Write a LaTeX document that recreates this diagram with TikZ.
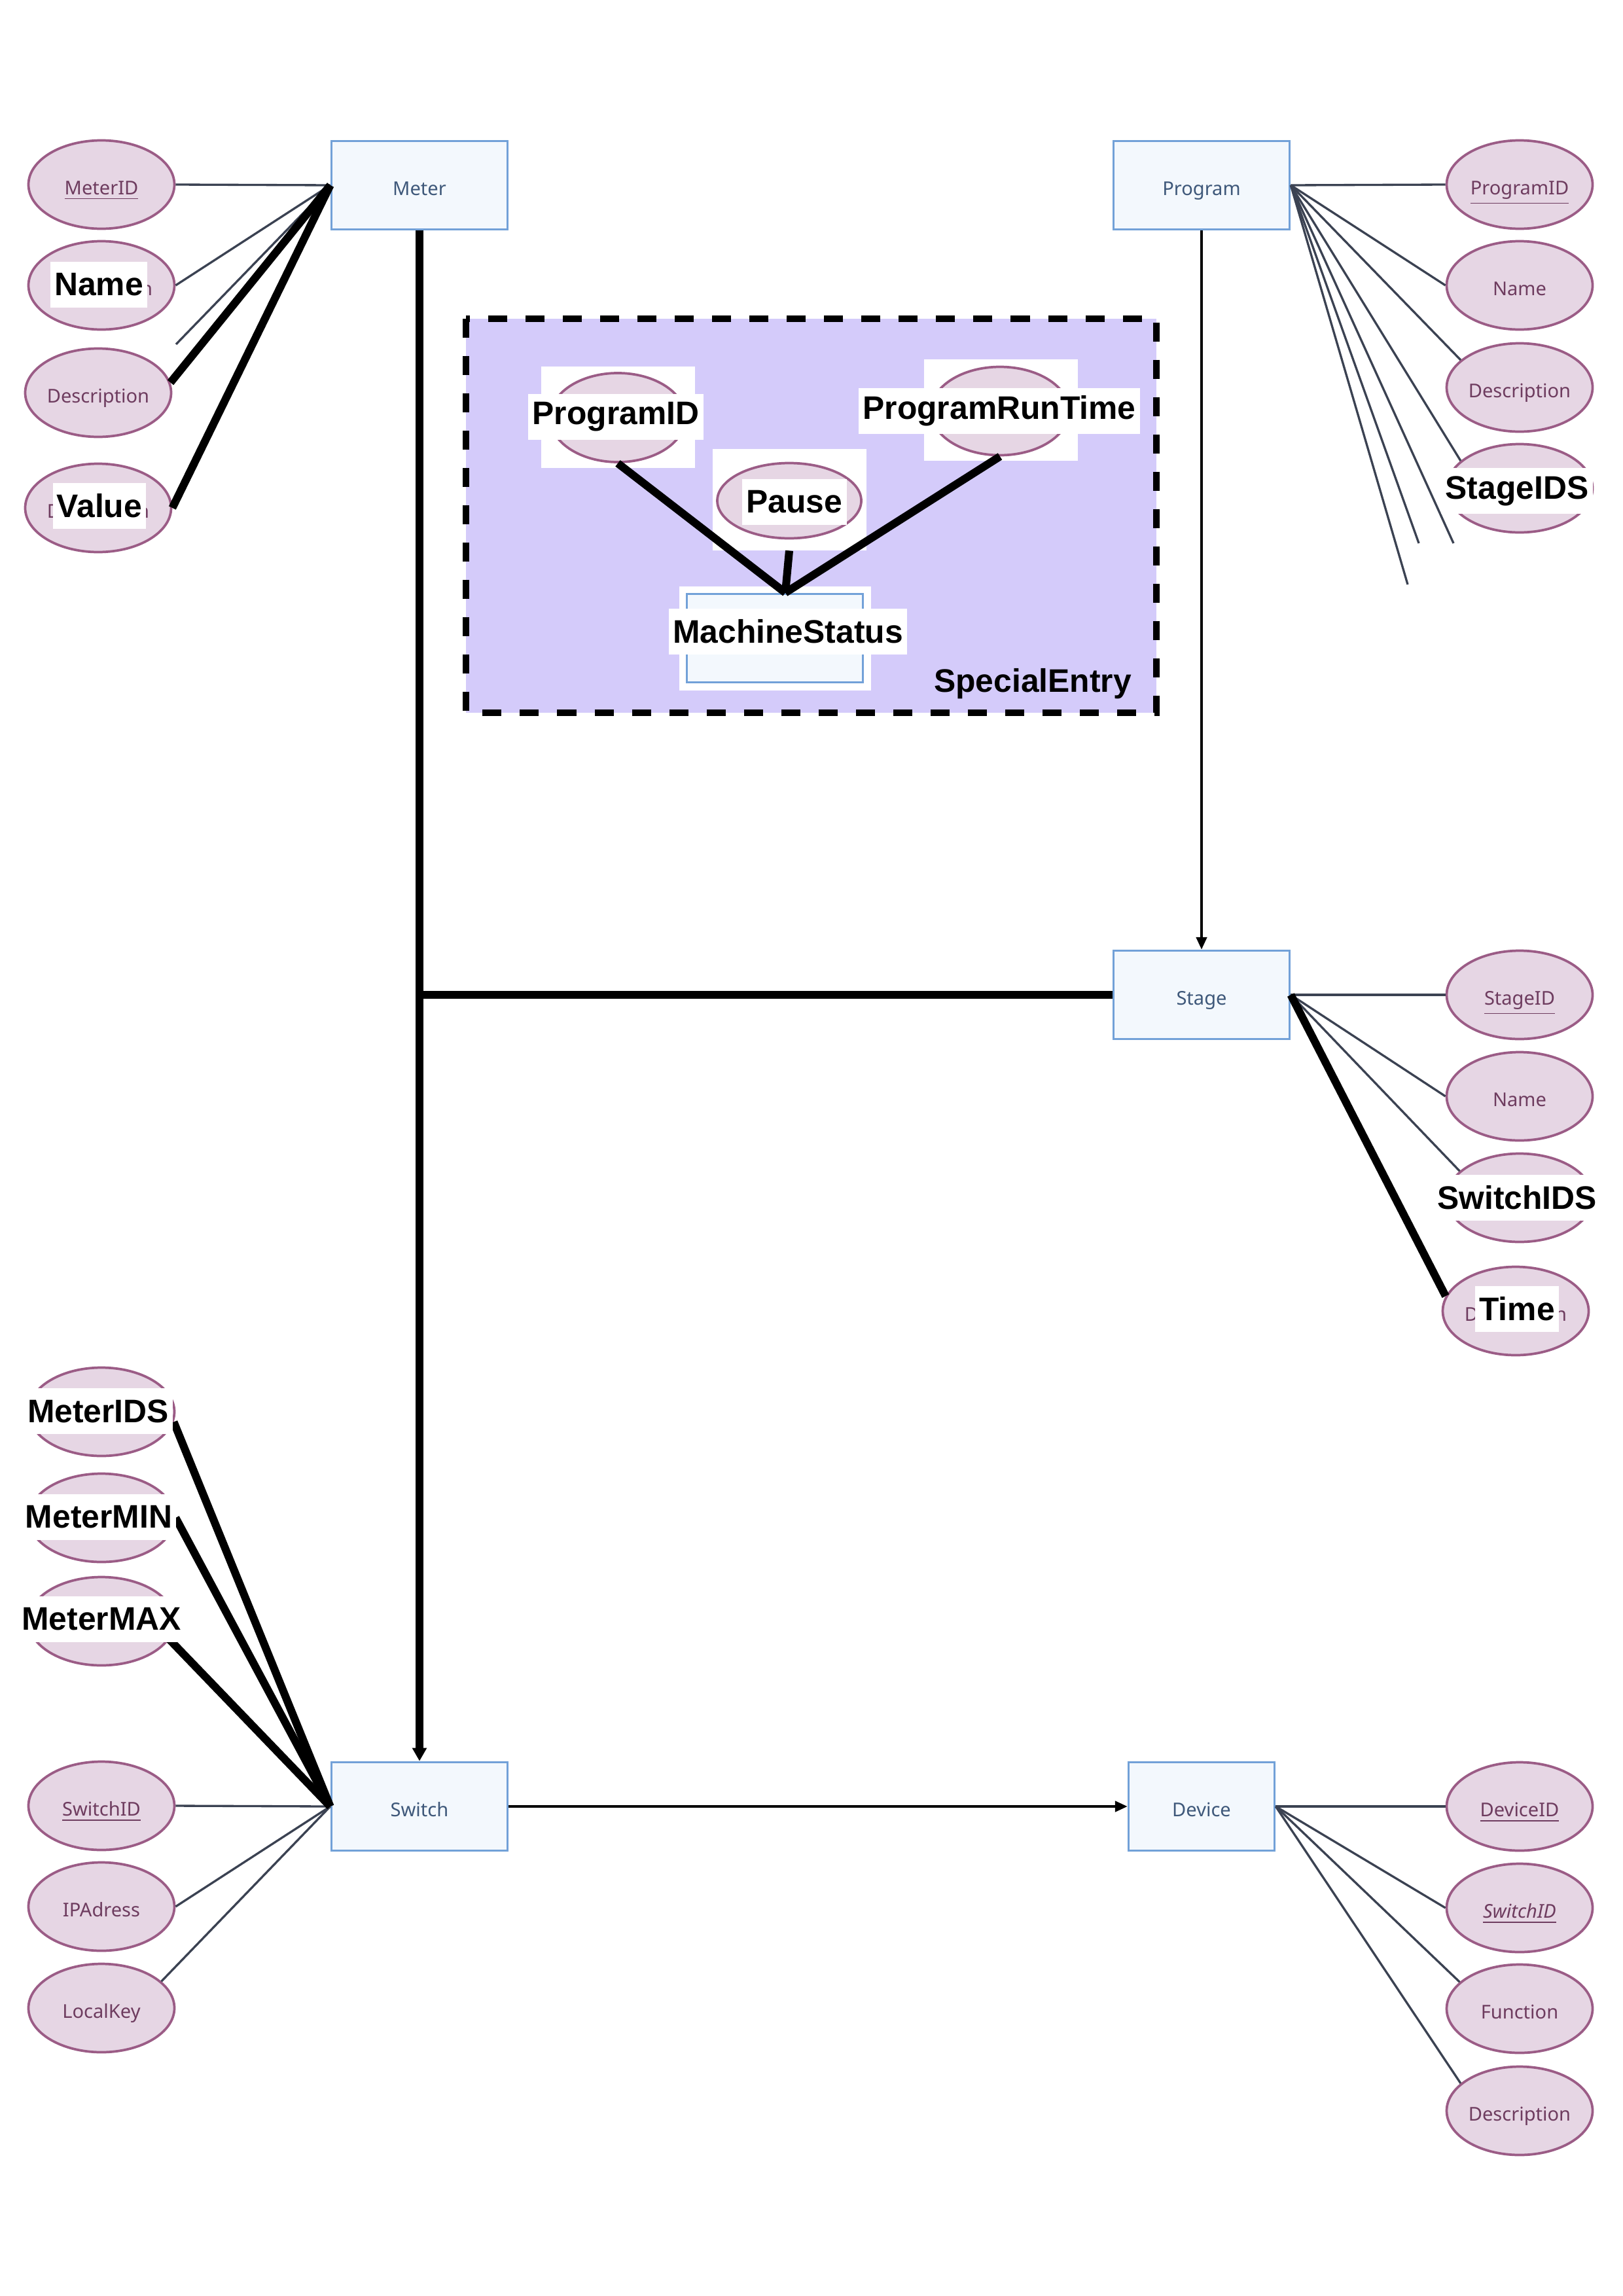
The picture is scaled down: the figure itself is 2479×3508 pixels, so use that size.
\documentclass[tikz,border=0pt]{standalone}
\usepackage{fontspec}
\setmainfont{Noto Sans}
\newfontfamily\tagfamily{Liberation Sans}
\usepackage{tikz}
\usetikzlibrary{arrows.meta, shapes.geometric}
\usepackage{xcolor}
\definecolor{entityline}{RGB}{114,161,216}
\definecolor{entityfill}{RGB}{243,248,253}
\definecolor{entitytext}{RGB}{62,88,122}
\definecolor{attrline}{RGB}{155,92,134}
\definecolor{attrfill}{RGB}{230,214,228}
\definecolor{attrtext}{RGB}{110,60,95}
\definecolor{linkgray}{RGB}{59,66,82}
\definecolor{specialfill}{RGB}{212,203,250}
\newcommand{\px}{0.00847cm}
\tikzset{%
	entity/.style={
		rectangle,
		draw=entityline,
		fill=entityfill,
		line width=0.9pt,
		minimum width=269*\px,
		minimum height=135*\px,
		text=entitytext,
		text height=8pt,
		text depth=0.5pt,
		font=\fontsize{7}{8}\selectfont
	},
	attribute/.style={
		ellipse,
		draw=attrline,
		fill=attrfill,
		line width=0.9pt,
		inner sep=0pt,
		minimum width=223*\px,
		minimum height=135*\px,
		text=attrtext,
		text height=8pt,
		text depth=0.5pt,
		font=\fontsize{7}{8}\selectfont
	},
	backdrop/.style={fill=white, minimum width=235*\px, minimum height=155*\px},
	tag/.style={
		fill=white,
		inner xsep=1.5pt,
		inner ysep=0pt,
		minimum height=70*\px,
		font=\tagfamily\bfseries\fontsize{12}{14}\selectfont
	},
	link/.style={draw=linkgray, line width=0.8pt},
	heavy/.style={draw=black, line width=2.9pt},
	flow/.style={draw=black, line width=0.8pt, -{Triangle[length=1.6mm, width=1.4mm]}},
}
\begin{document}
\begin{tikzpicture}[x=\px, y=-\px]
	\useasboundingbox (0,0) rectangle (2479,3508);
	
	% Special entry area
	\draw[fill=specialfill, line width=2.6pt, dash pattern=on 2.46mm off 2.37mm] (712,487) rectangle (1767,1089);
	
	% Entities
	\node[entity] (meter) at (641,283) {Meter};
	\node[entity] (program) at (1836,283) {Program};
	\node[entity] (stage) at (1836,1520) {Stage};
	\node[entity] (switch) at (641,2760) {Switch};
	\node[entity, minimum width=223*\px] (device) at (1836,2760) {Device};
	
	% Meter attributes
	\node[attribute] (meterid) at (155,282) {\underline{MeterID}};
	\node[attribute] (mname) at (155,436) {Description};
	\node[attribute] (mdesc) at (150,600) {Description};
	\node[attribute] (mvalue) at (150,776) {Description};
	
	% Program attributes
	\node[attribute] (progid) at (2322,282) {\underline{ProgramID}};
	\node[attribute] (pname) at (2322,436) {Name};
	\node[attribute] (pdesc) at (2322,592) {Description};
	\node[attribute] (pstage) at (2322,746) {};
	
	% Stage attributes
	\node[attribute] (stageid) at (2322,1520) {\underline{StageID}};
	\node[attribute] (sname) at (2322,1675) {Name};
	\node[attribute] (sswitch) at (2322,1830) {};
	\node[attribute] (stime) at (2316,2003) {Description};
	
	% Switch attributes
	\node[attribute] (mids) at (155,2157) {};
	\node[attribute] (mmin) at (155,2319) {};
	\node[attribute] (mmax) at (155,2477) {};
	\node[attribute] (switchid) at (155,2759) {\underline{SwitchID}};
	\node[attribute] (ipadr) at (155,2913) {IPAdress};
	\node[attribute] (lkey) at (155,3068) {LocalKey};
	
	% Device attributes
	\node[attribute] (deviceid) at (2322,2760) {\underline{DeviceID}};
	\node[attribute] (dswitch) at (2322,2915) {\underline{\textit{SwitchID}}};
	\node[attribute] (dfunc) at (2322,3069) {Function};
	\node[attribute] (ddesc) at (2322,3225) {Description};
	
	% Inside the special entry
	\node[backdrop] (bgpid) at (944,637) {};
	\node[attribute, minimum width=207*\px, minimum height=136*\px] (ipid) at (944,638) {};
	\node[backdrop] (bgpause) at (1206,763) {};
	\node[attribute, minimum width=220*\px, minimum height=115*\px] (ipause) at (1206,765) {};
	\node[backdrop] (bgprt) at (1529,626) {};
	\node[attribute, minimum width=211*\px, minimum height=135*\px] (iprt) at (1528,628) {};
	\node[backdrop, minimum width=293*\px, minimum height=159*\px] (bgms) at (1184,975) {};
	\node[entity] (ims) at (1184,975) {};
	
	% Loose ends
	\coordinate (mcut) at (269,526);
	\coordinate (pcut1) at (2221,830);
	\coordinate (pcut2) at (2168,830);
	\coordinate (pcut3) at (2151,893);
	
	% Meter connectors
	\draw[link] (meter.west) -- (meterid.east);
	\draw[link] (meter.west) -- (mname.east);
	\draw[link] (meter.west) -- (mcut);
	\draw[heavy] (meter.west) -- (mdesc.8);
	\draw[heavy] (meter.west) -- (mvalue.east);
	
	% Program connectors
	\draw[link] (program.east) -- (progid.west);
	\draw[link] (program.east) -- (pname.west);
	\draw[link] (program.east) -- (pdesc.155);
	\draw[link] (program.east) -- (pstage.155);
	\draw[link] (program.east) -- (pcut1);
	\draw[link] (program.east) -- (pcut2);
	\draw[link] (program.east) -- (pcut3);
	\draw[flow] (program.south) -- (stage.north);
	
	% Stage connectors
	\draw[link] (stage.east) -- (stageid.west);
	\draw[link] (stage.east) -- (sname.west);
	\draw[link] (stage.east) -- (sswitch.156);
	\draw[heavy] (stage.east) -- (stime.168);
	
	% Meter to switch, stage joins
	\draw[heavy, -{Triangle[length=1.7mm, width=1.8mm]}] (meter.south) -- (switch.north);
	\draw[heavy] (stage.west) -- (stage.west -| meter.south);
	
	% Switch connectors
	\draw[link] (switch.west) -- (switchid.east);
	\draw[link] (switch.west) -- (ipadr.east);
	\draw[link] (switch.west) -- (lkey.24);
	\draw[heavy] (switch.west) -- (mids.-8);
	\draw[heavy] (switch.west) -- (mmin.east);
	\draw[heavy] (switch.west) -- (mmax.-15);
	\draw[flow] (switch.east) -- (device.west);
	
	% Device connectors
	\draw[link] (device.east) -- (deviceid.west);
	\draw[link] (device.east) -- (dswitch.west);
	\draw[link] (device.east) -- (dfunc.156);
	\draw[link] (device.east) -- (ddesc.155);
	
	% Machine status connectors
	\draw[heavy] (ipid.south) -- ([xshift=16*\px]ims.north);
	\draw[heavy] (bgpause.south) -- ([xshift=16*\px]ims.north);
	\draw[heavy] (iprt.south) -- ([xshift=16*\px]ims.north);
	
	% Labels on top
	\node[tag] (tname) at (151,435) {Name};
	\node[tag] (tvalue) at (152,773) {Value};
	\node[tag] (tstageids) at (2318,750) {StageIDS};
	\node[tag] (tswitchids) at (2318,1830) {SwitchIDS};
	\node[tag] (ttime) at (2318,2000) {Time};
	\node[tag] (tmeterids) at (150,2156) {MeterIDS};
	\node[tag] (tmetermin) at (151,2318) {MeterMIN};
	\node[tag] (tmetermax) at (155,2474) {MeterMAX};
	\node[tag] (tpid) at (941,637) {ProgramID};
	\node[tag] (tpause) at (1214,767) {Pause};
	\node[tag] (tprt) at (1527,628) {ProgramRunTime};
	\node[tag] (tms) at (1204,965) {MachineStatus};
	\node[font=\tagfamily\bfseries\fontsize{12}{14}\selectfont] (special) at (1578,1045) {SpecialEntry};
\end{tikzpicture}
\end{document}
